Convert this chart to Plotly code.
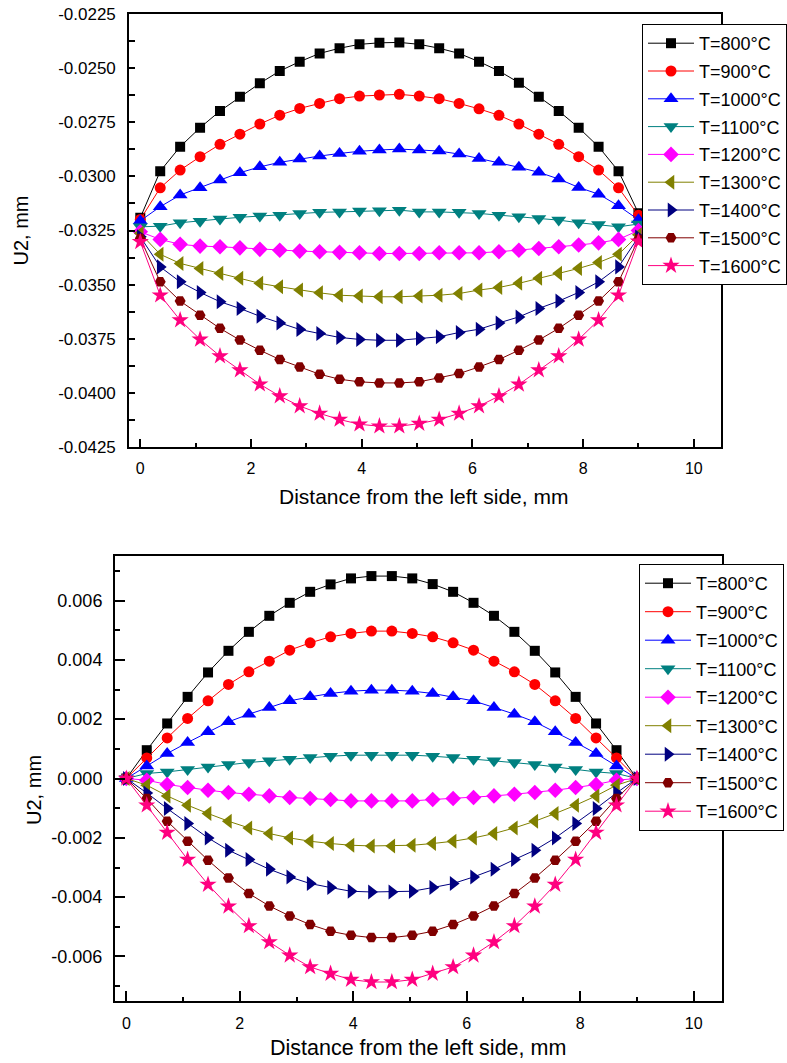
import plotly.graph_objects as go

# ---------------- data ----------------
X_MM = [0, 0.36, 0.72, 1.08, 1.44, 1.8, 2.16, 2.52, 2.88, 3.24, 3.6, 3.96, 4.32,
        4.68, 5.04, 5.4, 5.76, 6.12, 6.48, 6.84, 7.2, 7.56, 7.92, 8.28, 8.64, 9.0]

LABELS = ["T=800°C", "T=900°C", "T=1000°C", "T=1100°C", "T=1200°C",
          "T=1300°C", "T=1400°C", "T=1500°C", "T=1600°C"]

# top panel (U2, mm)
TOP_800 = [-0.03191, -0.02976, -0.02863, -0.02775, -0.02698, -0.02632, -0.02570, -0.02513, -0.02470, -0.02432, -0.02408, -0.02390, -0.02383,
           -0.02381, -0.02390, -0.02408, -0.02432, -0.02470, -0.02513, -0.02567, -0.02632, -0.02698, -0.02775, -0.02863, -0.02976, -0.03170]
TOP_900 = [-0.03199, -0.03053, -0.02971, -0.02909, -0.02852, -0.02805, -0.02758, -0.02717, -0.02686, -0.02663, -0.02641, -0.02629, -0.02624,
           -0.02621, -0.02629, -0.02641, -0.02663, -0.02688, -0.02718, -0.02758, -0.02805, -0.02852, -0.02909, -0.02971, -0.03053, -0.03180]
TOP_1000 = [-0.03205, -0.03140, -0.03086, -0.03053, -0.03017, -0.02983, -0.02956, -0.02935, -0.02920, -0.02906, -0.02894, -0.02884, -0.02878,
            -0.02874, -0.02878, -0.02883, -0.02897, -0.02917, -0.02935, -0.02958, -0.02981, -0.03012, -0.03051, -0.03082, -0.03136, -0.03200]
TOP_1100 = [-0.03233, -0.03230, -0.03214, -0.03207, -0.03197, -0.03189, -0.03183, -0.03179, -0.03171, -0.03166, -0.03164, -0.03160, -0.03159,
            -0.03156, -0.03164, -0.03164, -0.03166, -0.03171, -0.03179, -0.03187, -0.03194, -0.03202, -0.03214, -0.03222, -0.03233, -0.03220]
TOP_1200 = [-0.03256, -0.03291, -0.03314, -0.03322, -0.03325, -0.03330, -0.03337, -0.03341, -0.03345, -0.03348, -0.03351, -0.03353, -0.03356,
            -0.03356, -0.03356, -0.03353, -0.03353, -0.03353, -0.03348, -0.03341, -0.03333, -0.03325, -0.03317, -0.03307, -0.03291, -0.03250]
TOP_1300 = [-0.03263, -0.03360, -0.03402, -0.03425, -0.03448, -0.03471, -0.03494, -0.03510, -0.03525, -0.03538, -0.03549, -0.03553, -0.03556,
            -0.03556, -0.03553, -0.03549, -0.03541, -0.03525, -0.03513, -0.03494, -0.03471, -0.03448, -0.03425, -0.03398, -0.03360, -0.03270]
TOP_1400 = [-0.03279, -0.03418, -0.03487, -0.03536, -0.03579, -0.03610, -0.03646, -0.03677, -0.03707, -0.03726, -0.03744, -0.03753, -0.03757,
            -0.03757, -0.03749, -0.03741, -0.03721, -0.03706, -0.03677, -0.03649, -0.03610, -0.03576, -0.03536, -0.03487, -0.03418, -0.03280]
TOP_1500 = [-0.03287, -0.03487, -0.03576, -0.03641, -0.03702, -0.03756, -0.03803, -0.03846, -0.03880, -0.03914, -0.03937, -0.03949, -0.03954,
            -0.03954, -0.03949, -0.03931, -0.03911, -0.03880, -0.03846, -0.03803, -0.03756, -0.03702, -0.03641, -0.03576, -0.03487, -0.03290]
TOP_1600 = [-0.03302, -0.03549, -0.03664, -0.03753, -0.03830, -0.03895, -0.03960, -0.04015, -0.04061, -0.04095, -0.04123, -0.04145, -0.04154,
            -0.04154, -0.04142, -0.04123, -0.04095, -0.04061, -0.04015, -0.03961, -0.03895, -0.03830, -0.03753, -0.03664, -0.03549, -0.03300]

# bottom panel (U2, mm)
BOT_800 = [0, 0.000954, 0.001855, 0.002752, 0.003575, 0.004304, 0.004944, 0.005484, 0.005922, 0.006293, 0.006543, 0.006745, 0.006823,
           0.006823, 0.006745, 0.006553, 0.006293, 0.005922, 0.005484, 0.004944, 0.004304, 0.003575, 0.002752, 0.001855, 0.000954, 0]
BOT_900 = [0, 0.000695, 0.001369, 0.002024, 0.002617, 0.003170, 0.003595, 0.003956, 0.004327, 0.004573, 0.004776, 0.004890, 0.004968,
           0.004968, 0.004890, 0.004776, 0.004573, 0.004327, 0.003956, 0.003595, 0.003170, 0.002617, 0.002024, 0.001369, 0.000695, 0]
BOT_1000 = [0, 0.000425, 0.000843, 0.001214, 0.001572, 0.001909, 0.002169, 0.002395, 0.002617, 0.002752, 0.002867, 0.002944, 0.002978,
            0.002978, 0.002944, 0.002867, 0.002752, 0.002617, 0.002395, 0.002169, 0.001909, 0.001572, 0.001214, 0.000843, 0.000425, 0]
BOT_1100 = [0, 0.000169, 0.000223, 0.000304, 0.000391, 0.000472, 0.000540, 0.000594, 0.000651, 0.000708, 0.000752, 0.000786, 0.000786,
            0.000786, 0.000786, 0.000752, 0.000708, 0.000651, 0.000594, 0.000540, 0.000472, 0.000391, 0.000304, 0.000223, 0.000169, 0]
BOT_1200 = [0, -0.000057, -0.000202, -0.000304, -0.000395, -0.000472, -0.000530, -0.000587, -0.000641, -0.000675, -0.000708, -0.000755, -0.000755,
            -0.000755, -0.000755, -0.000708, -0.000675, -0.000641, -0.000587, -0.000530, -0.000472, -0.000395, -0.000304, -0.000202, -0.000057, 0]
BOT_1300 = [0, -0.000226, -0.000587, -0.000900, -0.001180, -0.001440, -0.001666, -0.001855, -0.002003, -0.002115, -0.002192, -0.002250, -0.002273,
            -0.002273, -0.002250, -0.002192, -0.002115, -0.002003, -0.001855, -0.001666, -0.001440, -0.001180, -0.000900, -0.000587, -0.000226, 0]
BOT_1400 = [0, -0.000486, -0.001012, -0.001518, -0.002003, -0.002418, -0.002732, -0.003059, -0.003319, -0.003541, -0.003676, -0.003801, -0.003825,
            -0.003825, -0.003801, -0.003676, -0.003541, -0.003319, -0.003059, -0.002732, -0.002418, -0.002003, -0.001518, -0.001012, -0.000486, 0]
BOT_1500 = [0, -0.000675, -0.001440, -0.002115, -0.002755, -0.003352, -0.003879, -0.004297, -0.004634, -0.004924, -0.005150, -0.005285, -0.005363,
            -0.005363, -0.005285, -0.005150, -0.004924, -0.004634, -0.004297, -0.003879, -0.003352, -0.002755, -0.002115, -0.001440, -0.000675, 0]
BOT_1600 = [0, -0.000900, -0.001821, -0.002732, -0.003575, -0.004307, -0.004971, -0.005511, -0.005960, -0.006354, -0.006577, -0.006780, -0.006860,
            -0.006860, -0.006780, -0.006577, -0.006354, -0.005960, -0.005511, -0.004971, -0.004307, -0.003575, -0.002732, -0.001821, -0.000900, 0]

TOP_SERIES = [TOP_800, TOP_900, TOP_1000, TOP_1100, TOP_1200, TOP_1300, TOP_1400, TOP_1500, TOP_1600]
BOT_SERIES = [BOT_800, BOT_900, BOT_1000, BOT_1100, BOT_1200, BOT_1300, BOT_1400, BOT_1500, BOT_1600]

# tick labels
TOP_Y_TICKS = [-0.0425, -0.04, -0.0375, -0.035, -0.0325, -0.03, -0.0275, -0.025, -0.0225]
TOP_Y_TEXT = ["-0.0425", "-0.0400", "-0.0375", "-0.0350", "-0.0325", "-0.0300", "-0.0275", "-0.0250", "-0.0225"]
BOT_Y_TICKS = [-0.006, -0.004, -0.002, 0.0, 0.002, 0.004, 0.006]
BOT_Y_TEXT = ["-0.006", "-0.004", "-0.002", "0.000", "0.002", "0.004", "0.006"]

# ---------------- styles ----------------
COLORS = ["#000000", "#FF0000", "#0000FF", "#008080", "#FF00FF",
          "#808000", "#000080", "#800000", "#FF0080"]
SYMBOLS = ["square", "circle", "triangle-up", "triangle-down", "diamond",
           "triangle-left", "triangle-right", "hexagon2", "star"]
SIZES = [10, 11, 13, 13, 12, 13, 13, 11, 13]

FONT = "Liberation Sans, Arial, sans-serif"

fig = go.Figure()
for i, lab in enumerate(LABELS):
    fig.add_trace(go.Scatter(
        x=X_MM, y=TOP_SERIES[i], name=lab, mode="lines+markers",
        xaxis="x", yaxis="y", legend="legend", legendgroup=f"t{i}",
        line=dict(color=COLORS[i], width=1),
        marker=dict(symbol=SYMBOLS[i], size=SIZES[i], color=COLORS[i]),
    ))
for i, lab in enumerate(LABELS):
    fig.add_trace(go.Scatter(
        x=X_MM, y=BOT_SERIES[i], name=lab, mode="lines+markers",
        xaxis="x2", yaxis="y2", legend="legend2", legendgroup=f"b{i}",
        line=dict(color=COLORS[i], width=1),
        marker=dict(symbol=SYMBOLS[i], size=SIZES[i], color=COLORS[i]),
    ))

axis_common = dict(showline=True, linewidth=2, linecolor="black", mirror=True,
                   showgrid=False, zeroline=False, ticks="inside",
                   tickcolor="black", tickwidth=2, automargin=False)

fig.update_layout(
    width=787, height=1063,
    margin=dict(l=0, r=0, t=0, b=0),
    paper_bgcolor="white", plot_bgcolor="white",
    font=dict(family=FONT, color="black"),
    xaxis=dict(domain=[0.1644, 0.9179], range=[-0.2, 10.5], anchor="y",
               tickmode="linear", tick0=0, dtick=2, ticklen=8,
               tickfont=dict(size=16), ticklabelstandoff=6,
               minor=dict(ticks="inside", tickmode="linear", tick0=0, dtick=1,
                          ticklen=4, tickwidth=2, tickcolor="black"),
               **axis_common),
    yaxis=dict(domain=[0.5795, 0.9868], range=[-0.0425, -0.0225], anchor="x",
               tickmode="array", tickvals=TOP_Y_TICKS, ticktext=TOP_Y_TEXT,
               ticklen=6, tickfont=dict(size=17), ticklabelstandoff=8,
               minor=dict(ticks="inside", tickmode="linear", tick0=-0.0425, dtick=0.00125,
                          ticklen=6, tickwidth=2, tickcolor="black"),
               **axis_common),
    xaxis2=dict(domain=[0.1463, 0.9186], range=[-0.2, 10.5], anchor="y2",
                tickmode="linear", tick0=0, dtick=2, ticklen=10,
                tickfont=dict(size=16), ticklabelstandoff=7,
                minor=dict(ticks="inside", tickmode="linear", tick0=0, dtick=1,
                           ticklen=4, tickwidth=2, tickcolor="black"),
                **axis_common),
    yaxis2=dict(domain=[0.05833, 0.47695], range=[-0.0075, 0.0075], anchor="x2",
                tickmode="array", tickvals=BOT_Y_TICKS, ticktext=BOT_Y_TEXT,
                ticklen=10, tickfont=dict(size=18), ticklabelstandoff=7,
                minor=dict(ticks="inside", tickmode="linear", tick0=-0.007, dtick=0.001,
                           ticklen=5, tickwidth=2, tickcolor="black"),
                **axis_common),
    legend=dict(x=643 / 787, y=1 - 24 / 1063, xanchor="left", yanchor="top",
                bgcolor="white", bordercolor="black", borderwidth=1,
                font=dict(size=18, family=FONT), tracegroupgap=1.4,
                itemwidth=46),
    legend2=dict(x=639 / 787, y=1 - 564 / 1063, xanchor="left", yanchor="top",
                 bgcolor="white", bordercolor="black", borderwidth=1,
                 font=dict(size=18, family=FONT), tracegroupgap=2.1,
                 itemwidth=46),
    annotations=[
        dict(text="U2, mm", x=21.5 / 787, y=1 - 230 / 1063, xref="paper", yref="paper",
             textangle=-90, showarrow=False, xanchor="center", yanchor="middle",
             font=dict(size=20, family=FONT)),
        dict(text="Distance from the left side, mm", x=424 / 787, y=1 - 497 / 1063,
             xref="paper", yref="paper", showarrow=False, xanchor="center", yanchor="middle",
             font=dict(size=21, family=FONT)),
        dict(text="U2, mm", x=34 / 787, y=1 - 790 / 1063, xref="paper", yref="paper",
             textangle=-90, showarrow=False, xanchor="center", yanchor="middle",
             font=dict(size=20, family=FONT)),
        dict(text="Distance from the left side, mm", x=419 / 787, y=1 - 1048 / 1063,
             xref="paper", yref="paper", showarrow=False, xanchor="center", yanchor="middle",
             font=dict(size=21.5, family=FONT)),
    ],
    showlegend=True,
)

fig.write_html("out.html")
